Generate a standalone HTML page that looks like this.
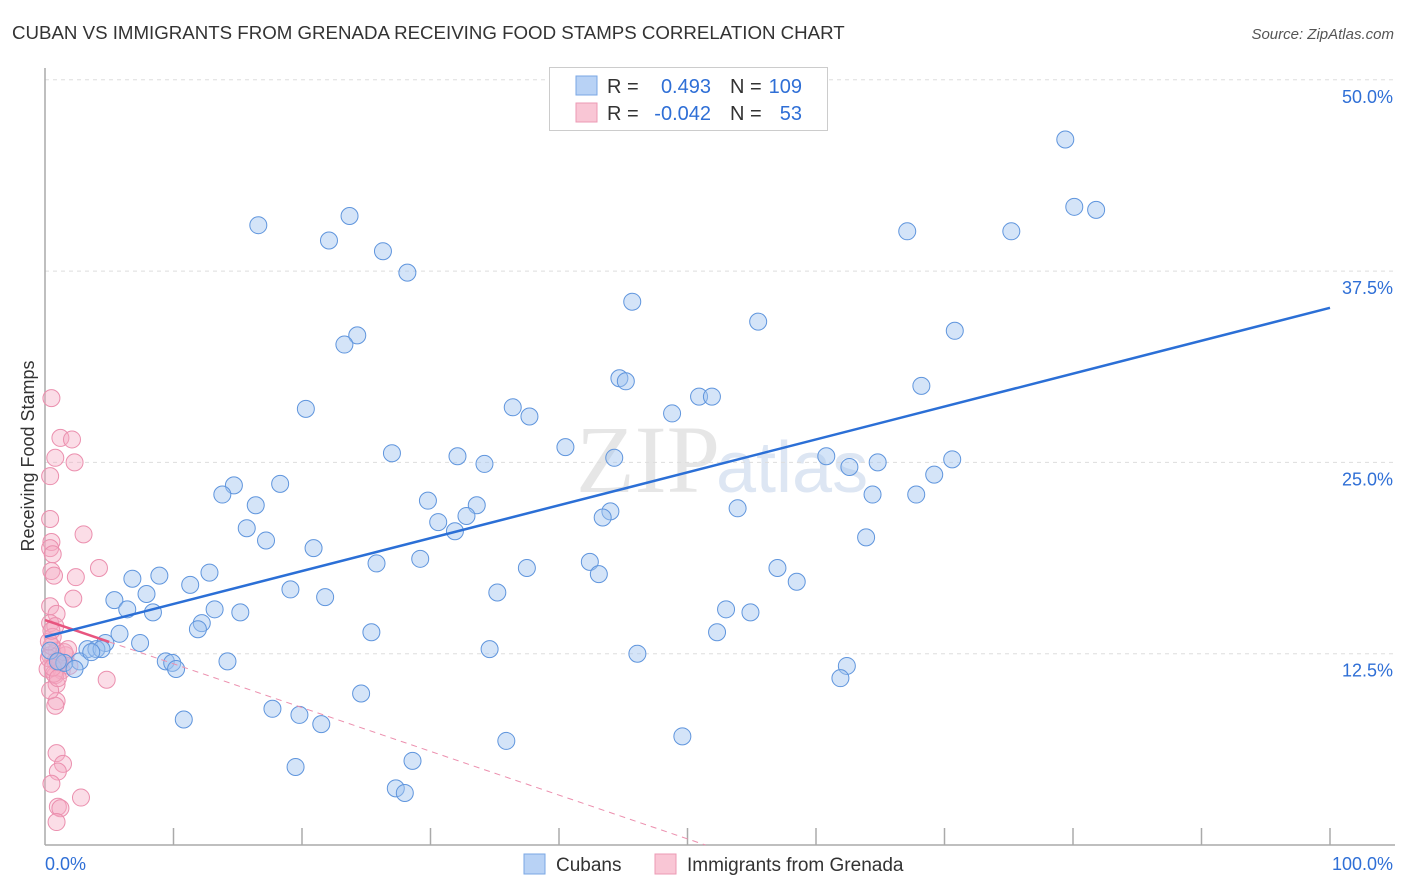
<!DOCTYPE html>
<html><head><meta charset="utf-8">
<style>
body{margin:0;background:#fff;font-family:"Liberation Sans",sans-serif;}
#wrap{position:relative;width:1406px;height:892px;overflow:hidden;}
</style></head>
<body>
<div id="wrap">
<svg id="chart" width="1406" height="892">
<text x="12" y="39" font-size="18.7" fill="#333">CUBAN VS IMMIGRANTS FROM GRENADA RECEIVING FOOD STAMPS CORRELATION CHART</text>
<text x="1394" y="39" font-size="15" fill="#555" font-style="italic" text-anchor="end">Source: ZipAtlas.com</text>
<text x="34" y="456" font-size="18" fill="#333" text-anchor="middle" transform="rotate(-90 34 456)">Receiving Food Stamps</text>
<text x="720" y="492" font-size="96" fill="#e6e6e6" text-anchor="end" font-family="Liberation Serif,serif">ZIP</text>
<text x="716" y="492" font-size="72" fill="#dde6f3">atlas</text>
<g id="grid"></g>
<g id="axes"></g>
<g id="pink"></g>
<g id="blue"></g>
<g id="lines"></g>
<g>
<rect x="549.5" y="67.5" width="278" height="63" fill="#fff" stroke="#ccc"/>
<rect x="576" y="76" width="21" height="19" fill="#b8d2f5" stroke="#7aa7e4"/>
<rect x="576" y="103" width="21" height="19" fill="#f9c6d5" stroke="#ec9ab4"/>
<text x="607" y="93" font-size="20" fill="#333">R =</text>
<text x="711" y="93" font-size="20" fill="#2f6fd6" text-anchor="end">0.493</text>
<text x="730" y="93" font-size="20" fill="#333">N =</text>
<text x="802" y="93" font-size="20" fill="#2f6fd6" text-anchor="end">109</text>
<text x="607" y="120" font-size="20" fill="#333">R =</text>
<text x="711" y="120" font-size="20" fill="#2f6fd6" text-anchor="end">-0.042</text>
<text x="730" y="120" font-size="20" fill="#333">N =</text>
<text x="802" y="120" font-size="20" fill="#2f6fd6" text-anchor="end">53</text>
</g>
<g>
<rect x="524" y="854" width="21" height="20" fill="#b8d2f5" stroke="#7aa7e4"/>
<text x="556" y="871" font-size="19" fill="#333">Cubans</text>
<rect x="655" y="854" width="21" height="20" fill="#f9c6d5" stroke="#ec9ab4"/>
<text x="687" y="871" font-size="19" fill="#333">Immigrants from Grenada</text>
</g>
</svg>
</div>
<script>
const yTicks=[12.5,25,37.5,50];
const yTickLabels=["12.5%","25.0%","37.5%","50.0%"];
const xTickVals=[0,10,20,30,40,50,60,70,80,90,100];
const xEndLabels=["0.0%","100.0%"];
const blueX=[79.4,80.1,81.8,67.1,75.2,16.6,23.7,22.1,26.3,28.2,45.7,55.5,70.8,24.3,23.3,44.7,45.2,68.2,50.9,51.9,20.3,36.4,37.7,48.8,40.5,27.0,32.1,44.3,34.2,60.8,62.6,64.8,70.6,69.2,14.7,18.3,13.8,64.4,67.8,29.8,16.4,33.6,53.9,44.0,43.4,32.8,30.6,31.9,15.7,17.2,63.9,20.9,29.2,25.8,42.4,37.5,43.1,57.0,58.5,6.8,8.9,12.8,11.3,19.1,7.9,35.2,21.8,5.4,6.4,8.4,13.2,15.2,53.0,54.9,12.2,11.9,5.8,25.4,52.3,7.4,4.7,3.3,4.0,4.4,34.6,46.1,2.7,1.5,2.3,9.4,9.9,10.2,14.2,62.4,61.9,24.6,10.8,17.7,19.8,21.5,35.9,49.6,19.5,28.6,27.3,28.0,0.4,1.0,3.6];
const blueY=[46.1,41.7,41.5,40.1,40.1,40.5,41.1,39.5,38.8,37.4,35.5,34.2,33.6,33.3,32.7,30.5,30.3,30.0,29.3,29.3,28.5,28.6,28.0,28.2,26.0,25.6,25.4,25.3,24.9,25.4,24.7,25.0,25.2,24.2,23.5,23.6,22.9,22.9,22.9,22.5,22.2,22.2,22.0,21.8,21.4,21.5,21.1,20.5,20.7,19.9,20.1,19.4,18.7,18.4,18.5,18.1,17.7,18.1,17.2,17.4,17.6,17.8,17.0,16.7,16.4,16.5,16.2,16.0,15.4,15.2,15.4,15.2,15.4,15.2,14.5,14.1,13.8,13.9,13.9,13.2,13.2,12.8,12.8,12.8,12.8,12.5,12.0,11.9,11.5,12.0,11.9,11.5,12.0,11.7,10.9,9.9,8.2,8.9,8.5,7.9,6.8,7.1,5.1,5.5,3.7,3.4,12.7,12.0,12.6];
const pinkX=[0.5,1.2,2.1,0.8,2.3,0.4,0.4,3.0,0.5,0.4,0.6,0.5,0.7,2.4,4.2,2.2,0.4,0.9,0.4,0.8,0.6,0.9,0.4,0.8,1.2,0.2,1.3,0.8,4.8,0.9,0.9,0.8,0.9,1.4,1.0,0.5,2.8,1.0,1.2,0.9,1.6,1.9,0.4,0.3,0.7,1.1,0.5,1.5,0.6,0.3,1.0,1.8,0.5];
const pinkY=[29.2,26.6,26.5,25.3,25.0,24.1,21.3,20.3,19.8,19.4,19.0,17.9,17.6,17.5,18.1,16.1,15.6,15.1,14.5,14.3,13.6,12.7,12.4,12.0,11.9,11.5,11.4,11.1,10.8,10.5,9.4,9.1,6.0,5.3,4.8,4.0,3.1,2.5,2.4,1.5,12.4,11.7,10.1,12.2,11.2,12.0,13.0,12.6,11.6,13.3,10.9,12.8,14.0];
const blueTrend=[13.6,35.1];
const pinkTrend=[14.7,-13.9];
const pinkSolidEnd=5;

const X0=45,X1=1330,Y0=845,PX_PER=191.3/12.5;
const NS="http://www.w3.org/2000/svg";
function xs(v){return X0+(X1-X0)*v/100;}
function ys(v){return Y0-v*PX_PER;}
function mk(tag,attrs,parent){const e=document.createElementNS(NS,tag);for(const k in attrs)e.setAttribute(k,attrs[k]);document.getElementById(parent).appendChild(e);return e;}

yTicks.forEach((t,i)=>{
  const g=mk('line',{x1:X0,x2:1395,y1:ys(t),y2:ys(t),stroke:'#ddd','stroke-dasharray':'4,4'},'grid');
  
  
  const l=mk('text',{x:1393,y:ys(t)+23,'font-size':18,fill:'#2f6fd6','text-anchor':'end'},'grid');
  l.textContent=yTickLabels[i];
  
  
});
const ya=mk('line',{x1:X0,x2:X0,y1:68,y2:Y0,stroke:'#aaa','stroke-width':1.5},'axes');


const xa=mk('line',{x1:X0,x2:1395,y1:Y0,y2:Y0,stroke:'#aaa','stroke-width':1.5},'axes');


xTickVals.forEach(v=>{
  if(v===0)return;
  const t=mk('line',{x1:xs(v),x2:xs(v),y1:Y0-17,y2:Y0,stroke:'#aaa','stroke-width':1.5},'axes');
  
  
});
const xl0=mk('text',{x:45,y:870,'font-size':18,fill:'#2f6fd6'},'axes');
xl0.textContent=xEndLabels[0];


const xl1=mk('text',{x:1393,y:870,'font-size':18,fill:'#2f6fd6','text-anchor':'end'},'axes');
xl1.textContent=xEndLabels[1];



pinkX.forEach((v,i)=>{
  const c=mk('circle',{cx:xs(v),cy:ys(pinkY[i]),r:8.5,fill:'rgba(246,170,196,0.4)',stroke:'#eb8fae','stroke-width':1},'pink');
  
  
});
blueX.forEach((v,i)=>{
  const c=mk('circle',{cx:xs(v),cy:ys(blueY[i]),r:8.5,fill:'rgba(160,196,240,0.45)',stroke:'#5f95dd','stroke-width':1},'blue');
  
  
});
const pAt=v=>pinkTrend[0]+(pinkTrend[1]-pinkTrend[0])*v/100;
const zeroX=100*pinkTrend[0]/(pinkTrend[0]-pinkTrend[1]);
const pd=mk('line',{x1:xs(pinkSolidEnd),y1:ys(pAt(pinkSolidEnd)),x2:xs(zeroX),y2:ys(0),stroke:'#ec8fae','stroke-width':1,'stroke-dasharray':'6,5'},'lines');


const ps=mk('line',{x1:xs(0),y1:ys(pAt(0)),x2:xs(pinkSolidEnd),y2:ys(pAt(pinkSolidEnd)),stroke:'#e8557f','stroke-width':2.5},'lines');


const bl=mk('line',{x1:xs(0),y1:ys(blueTrend[0]),x2:xs(100),y2:ys(blueTrend[1]),stroke:'#2b6fd6','stroke-width':2.5},'lines');


</script>
</body></html>
